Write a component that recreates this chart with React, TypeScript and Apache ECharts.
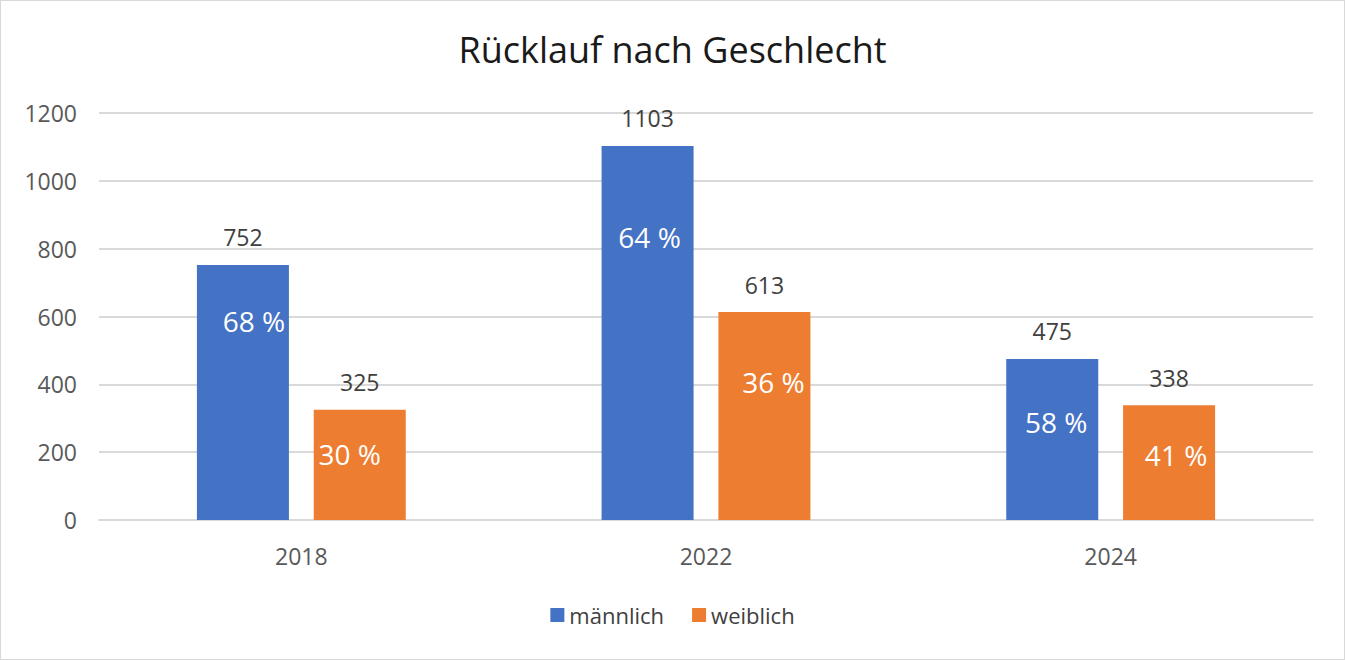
import React, { useEffect, useRef } from "react";
import * as echarts from "echarts";

const categories = ["2018", "2022", "2024"];
const maleValues = [752, 1103, 475];
const femaleValues = [325, 613, 338];
const malePct = [68, 64, 58];
const femalePct = [30, 36, 41];
const yTicks = { min: 0, max: 1200, interval: 200 };

// label placement inside bars (pixels: dx from bar centre, dy from bar top)
const maleLabelOffsets = [[11, 56], [2, 91], [4, 63]];
const femaleLabelOffsets = [[-10, 44], [9, 70], [7, 50]];

const BLUE = "#4472C4";
const ORANGE = "#ED7D31";
const FONT = "Open Sans";
const BAR_W = 92;

export default function App() {
  const ref = useRef<HTMLDivElement>(null);
  useEffect(() => {
    document.body.style.margin = "0";
    const chart = echarts.init(ref.current!, null, { renderer: "svg" });
    const pctSeries = (name: string, values: number[], pct: number[], offs: number[][]) => ({
      name,
      type: "bar",
      xAxisIndex: 1,
      barWidth: BAR_W,
      barGap: "27%",
      itemStyle: { color: "rgba(0,0,0,0)" },
      z: 5,
      silent: true,
      data: values.map((v, i) => ({
        value: v,
        label: {
          show: true,
          position: [BAR_W / 2 + offs[i][0], offs[i][1]],
          align: "center",
          verticalAlign: "middle",
          formatter: `${pct[i]} %`,
          color: "#ffffff",
          fontSize: 28,
          fontFamily: FONT,
        },
      })),
    });
    const valSeries = (name: string, values: number[], color: string) => ({
      name,
      type: "bar",
      xAxisIndex: 0,
      barWidth: BAR_W,
      barGap: "27%",
      itemStyle: { color },
      label: {
        show: true,
        position: "top",
        distance: 16,
        color: "#404040",
        fontSize: 23,
        fontFamily: FONT,
      },
      data: values,
    });
    chart.setOption({
      animation: false,
      backgroundColor: "#ffffff",
      textStyle: { fontFamily: FONT },
      title: {
        text: "Rücklauf nach Geschlecht",
        left: "center",
        top: 25,
        textStyle: { fontSize: 36, fontWeight: "normal", color: "#1a1a1a", fontFamily: FONT },
      },
      legend: {
        data: ["männlich", "weiblich"],
        bottom: 28,
        left: "center",
        itemWidth: 14,
        itemHeight: 14,
        itemGap: 28,
        icon: "rect",
        textStyle: { fontSize: 22, color: "#404040", fontFamily: FONT },
      },
      grid: { left: 98, right: 31, top: 112, bottom: 139, containLabel: false },
      xAxis: [
        {
          type: "category",
          data: categories,
          axisLine: { show: true, lineStyle: { color: "#d9d9d9", width: 2 } },
          axisTick: { show: false },
          axisLabel: { color: "#595959", fontSize: 23, margin: 24, fontFamily: FONT },
        },
        {
          type: "category",
          data: categories,
          show: false,
        },
      ],
      yAxis: {
        type: "value",
        min: yTicks.min,
        max: yTicks.max,
        interval: yTicks.interval,
        axisLine: { show: false },
        axisTick: { show: false },
        splitLine: { lineStyle: { color: "#d9d9d9", width: 2 } },
        axisLabel: {
          color: "#595959",
          fontSize: 23,
          margin: 22,
          fontFamily: FONT,
          formatter: (v: number) => String(v),
        },
      },
      series: [
        valSeries("männlich", maleValues, BLUE),
        valSeries("weiblich", femaleValues, ORANGE),
        pctSeries("männlich %", maleValues, malePct, maleLabelOffsets),
        pctSeries("weiblich %", femaleValues, femalePct, femaleLabelOffsets),
      ],
    });
    return () => chart.dispose();
  }, []);
  return (
    <div
      ref={ref}
      style={{ width: 1343, height: 658, border: "1px solid #d9d9d9" }}
    />
  );
}
